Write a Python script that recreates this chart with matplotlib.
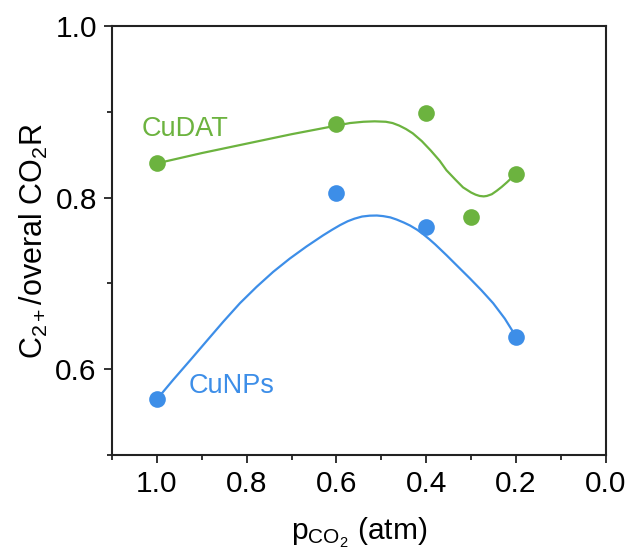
import matplotlib
matplotlib.use("Agg")
import matplotlib.pyplot as plt
from matplotlib.ticker import MultipleLocator

plt.rcParams['font.family'] = ['Liberation Sans', 'DejaVu Sans']
plt.rcParams['mathtext.fontset'] = 'custom'
plt.rcParams['mathtext.rm'] = 'Liberation Sans'
plt.rcParams['mathtext.it'] = 'Liberation Sans:italic'
plt.rcParams['mathtext.bf'] = 'Liberation Sans:bold'

# Measured data
cudat_x = [1.0, 0.6, 0.4, 0.3, 0.2]
cudat_y = [0.840, 0.886, 0.899, 0.777, 0.828]
cunps_x = [1.0, 0.6, 0.4, 0.2]
cunps_y = [0.565, 0.805, 0.766, 0.638]

# Trend curves
cudat_fit_x = [1.0, 0.9, 0.8, 0.7, 0.6, 0.57, 0.54, 0.515, 0.49, 0.475, 0.46, 0.445, 0.43, 0.41,
               0.39, 0.37, 0.355, 0.335, 0.318, 0.30, 0.29, 0.281, 0.272, 0.265, 0.254, 0.243,
               0.232, 0.22, 0.21, 0.2]
cudat_fit_y = [0.840, 0.852, 0.863, 0.874, 0.884, 0.887, 0.8885, 0.889, 0.8885, 0.887, 0.884,
               0.880, 0.875, 0.866, 0.855, 0.843, 0.832, 0.821, 0.812, 0.806, 0.8035, 0.802,
               0.8015, 0.802, 0.804, 0.808, 0.8125, 0.818, 0.823, 0.828]
cunps_fit_x = [1.0, 0.964, 0.925, 0.889, 0.852, 0.815, 0.778, 0.741, 0.704, 0.667, 0.63, 0.61,
               0.592, 0.575, 0.56, 0.543, 0.526, 0.51, 0.496, 0.48, 0.466, 0.45, 0.436, 0.42,
               0.407, 0.393, 0.38, 0.355, 0.33, 0.303, 0.277, 0.251, 0.225, 0.2]
cunps_fit_y = [0.565, 0.5875, 0.611, 0.633, 0.6555, 0.677, 0.696, 0.7135, 0.729, 0.743, 0.756,
               0.7625, 0.768, 0.7725, 0.7755, 0.778, 0.779, 0.7792, 0.7785, 0.777, 0.7745, 0.771,
               0.7675, 0.7625, 0.7575, 0.7515, 0.7455, 0.733, 0.720, 0.706, 0.692, 0.677, 0.659,
               0.638]

green = '#6cb33f'
blue = '#3d8ee8'

fig = plt.figure(figsize=(6.33, 5.56), dpi=100)
ax = fig.add_axes([0.177, 0.1817, 0.78, 0.7713])

ax.plot(cudat_fit_x, cudat_fit_y, color=green, lw=1.6, zorder=2)
ax.plot(cunps_fit_x, cunps_fit_y, color=blue, lw=1.6, zorder=2)
ax.plot(cudat_x, cudat_y, 'o', color=green, ms=12, mec='none', zorder=3)
ax.plot(cunps_x, cunps_y, 'o', color=blue, ms=12, mec='none', zorder=3)

ax.text(1.034, 0.872, 'CuDAT', color=green, fontsize=19.5, ha='left', va='baseline')
ax.text(0.930, 0.572, 'CuNPs', color=blue, fontsize=19.5, ha='left', va='baseline')

ax.set_xlim(1.1, 0.0)
ax.set_ylim(0.5, 1.0)
ax.xaxis.set_major_locator(MultipleLocator(0.2))
ax.xaxis.set_minor_locator(MultipleLocator(0.1))
ax.yaxis.set_major_locator(MultipleLocator(0.2))
ax.yaxis.set_minor_locator(MultipleLocator(0.1))
ax.set_xticks([1.0, 0.8, 0.6, 0.4, 0.2, 0.0])
ax.set_xticklabels(['1.0', '0.8', '0.6', '0.4', '0.2', '0.0'])
ax.set_yticks([0.6, 0.8, 1.0])
ax.set_yticklabels(['0.6', '0.8', '1.0'])

ax.tick_params(which='both', direction='out', top=False, right=False, width=1.3, color='#222222',
               labelsize=21.5, pad=5)
ax.tick_params(which='major', length=6)
ax.tick_params(which='minor', length=3.8)
for s in ax.spines.values():
    s.set_linewidth(1.5)
    s.set_color('#222222')

ax.set_xlabel(r'p$_{\mathrm{CO_2}}$ (atm)', fontsize=21.5, labelpad=13)
ax.set_ylabel(r'C$_{2+}$/overal CO$_2$R', fontsize=22, labelpad=4)

fig.savefig('out.png', dpi=100)
